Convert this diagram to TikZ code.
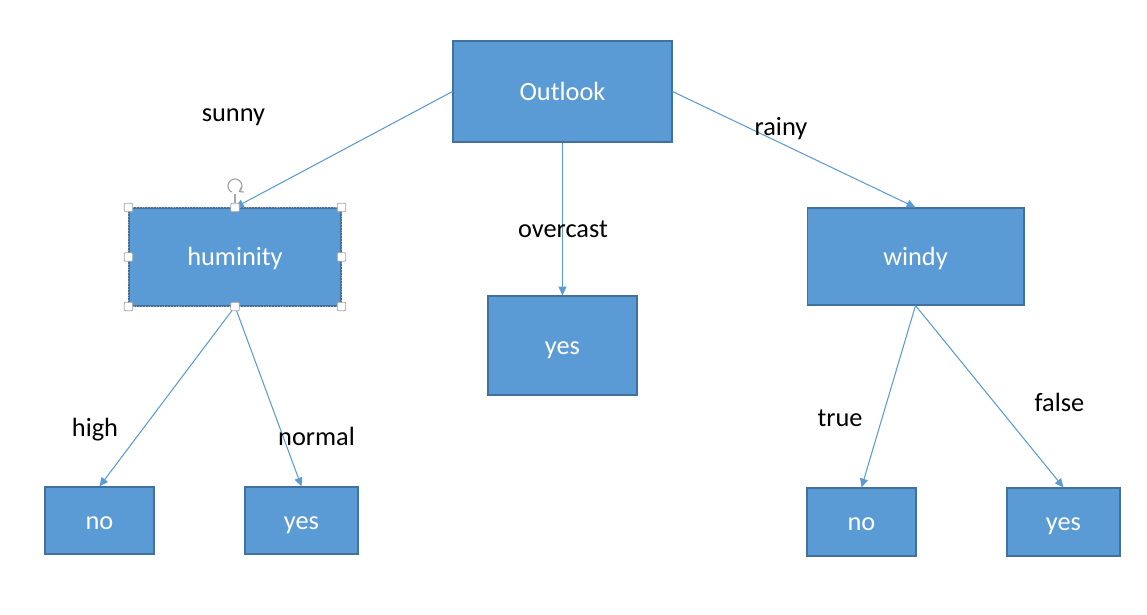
\documentclass[tikz,border=0pt]{standalone}
\usepackage{fontspec}
\setmainfont{Carlito}
\usetikzlibrary{arrows.meta, positioning}
\definecolor{boxfill}{HTML}{5B9BD5}
\definecolor{boxline}{HTML}{41719C}
\definecolor{handle}{HTML}{A6A6A6}

\begin{document}
\begin{tikzpicture}[
  x=0.02cm, y=-0.02cm,
  box/.style={draw=boxline, fill=boxfill, line width=0.6pt, inner sep=0pt,
              text height=9.7pt, text depth=0pt,
              text=white, font=\fontsize{15}{18}\selectfont},
  arr/.style={-{Triangle[length=5pt, width=4.5pt]}, draw=boxfill, line width=0.6pt},
  lbl/.style={anchor=base, inner sep=0pt, font=\fontsize{15}{18}\selectfont, text=black},
  grip/.style={draw=handle, fill=white, line width=0.5pt, minimum size=0.17cm,
               inner sep=0pt, rounded corners=0.6pt}
]
  \useasboundingbox (0,0) rectangle (1147,615);

  % tree nodes
  \node[box, minimum width=4.38cm, minimum height=2.02cm] (outlook) at (562.5,91.5) {Outlook};
  \node[box, minimum width=4.24cm, minimum height=1.96cm] (humid) at (235,257) {huminity};
  \node[box, minimum width=2.98cm, minimum height=1.98cm] (yesmid) at (562.5,345.5) {yes};
  \node[box, minimum width=4.34cm, minimum height=1.94cm] (windy) at (915.5,256.5) {windy};
  \node[box, minimum width=2.18cm, minimum height=1.34cm] (noleft) at (99.5,520.5) {no};
  \node[box, minimum width=2.26cm, minimum height=1.34cm] (yesleft) at (301.5,520.5) {yes};
  \node[box, minimum width=2.18cm, minimum height=1.36cm] (noright) at (861.5,522) {no};
  \node[box, minimum width=2.26cm, minimum height=1.36cm] (yesright) at (1063.5,522) {yes};

  % branches
  \draw[arr] (outlook.west) -- (humid.north);
  \draw[arr] (outlook.south) -- (yesmid.north);
  \draw[arr] (outlook.east) -- (windy.north);
  \draw[arr] (humid.south) -- (noleft.north);
  \draw[arr] (humid.south) -- (yesleft.north);
  \draw[arr] (windy.south) -- (noright.north);
  \draw[arr] (windy.south) -- (yesright.north);

  % branch labels
  \node[lbl] (sunny) at (233.5,121.7) {sunny};
  \node[lbl] (overcast) at (563,237.7) {overcast};
  \node[lbl] (rainy) at (781,135.7) {rainy};
  \node[lbl] (high) at (95,436.7) {high};
  \node[lbl] (normal) at (316.5,445.7) {normal};
  \node[lbl] (true) at (840,426) {true};
  \node[lbl] (false) at (1059.5,411.7) {false};

  % selection frame
  \draw[handle, densely dotted, line width=0.6pt] (humid.north west) rectangle (humid.south east);
  \foreach \a [count=\i] in {north west, north, north east, west, east, south west, south, south east}
    \node[grip] (grip\i) at (humid.\a) {};
  \coordinate (rot) at (235,186);
  \draw[handle, line width=0.6pt] (grip2.north) -- ++(0,-9);
  \draw[handle, line width=0.7pt, -{Straight Barb[length=2pt, width=3pt]}]
    ([shift={(120:7)}]rot) arc[start angle=120, end angle=420, radius=7];
\end{tikzpicture}
\end{document}
